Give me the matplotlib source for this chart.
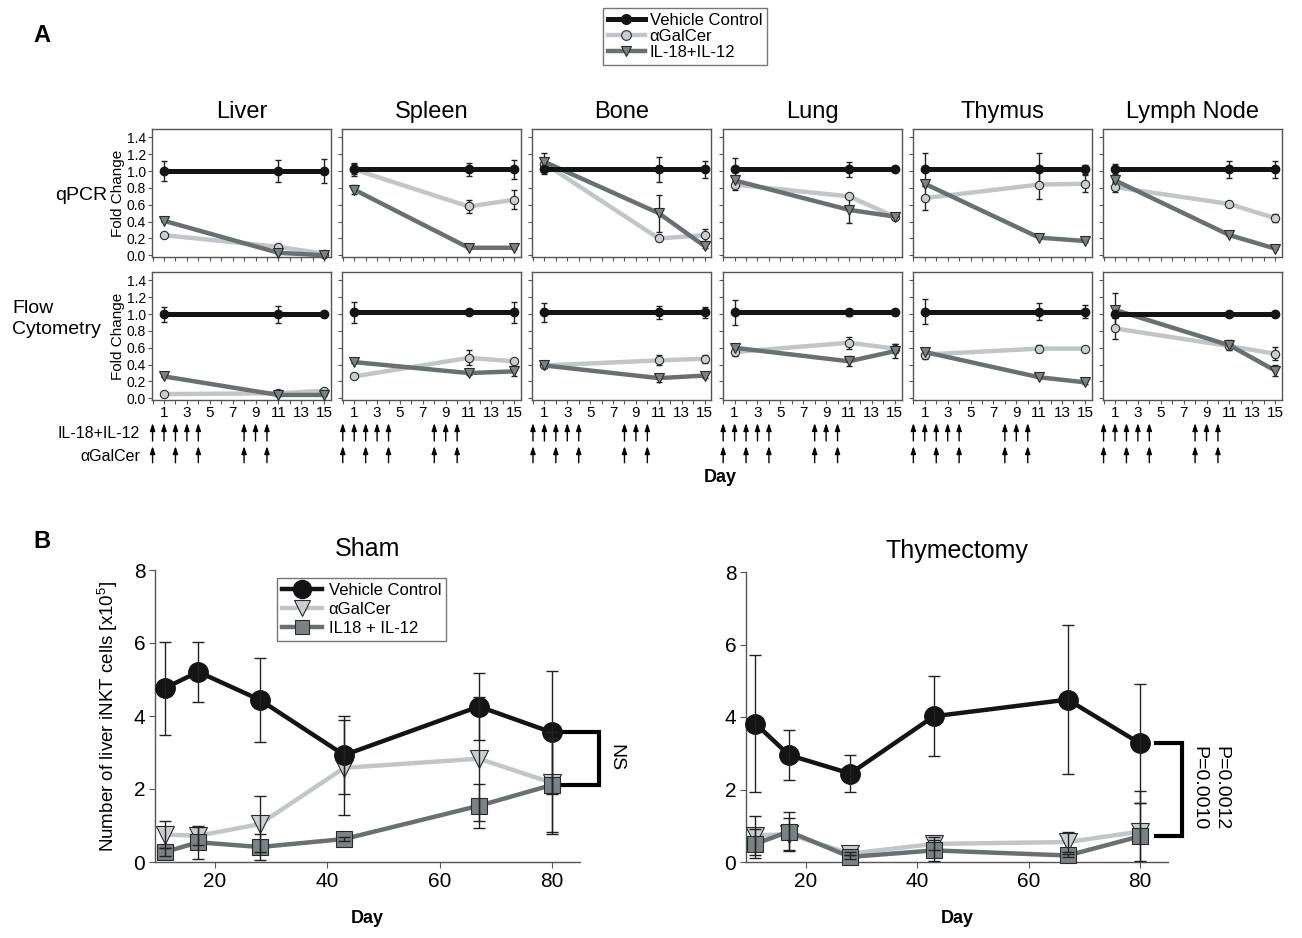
import matplotlib
matplotlib.use("Agg")
import matplotlib.pyplot as plt
from matplotlib.lines import Line2D
from matplotlib.ticker import MultipleLocator

plt.rcParams['font.family'] = ['Liberation Sans', 'DejaVu Sans']
plt.rcParams['mathtext.fontset'] = 'custom'
plt.rcParams['mathtext.rm'] = 'Liberation Sans'
plt.rcParams['mathtext.default'] = 'regular'

# ---------------- panel A data ----------------
tissues = ["Liver", "Spleen", "Bone", "Lung", "Thymus", "Lymph Node"]
days_a = [1, 11, 15]

qpcr_vehicle = [[1.00, 1.00, 1.00], [1.02, 1.02, 1.02], [1.02, 1.02, 1.02],
                [1.02, 1.02, 1.02], [1.02, 1.02, 1.02], [1.02, 1.02, 1.02]]
qpcr_vehicle_err = [[0.12, 0.13, 0.14], [0.08, 0.08, 0.11], [0.05, 0.15, 0.10],
                    [0.14, 0.09, 0.01], [0.20, 0.20, 0.05], [0.06, 0.10, 0.10]]
qpcr_galcer = [[0.24, 0.10, 0.02], [1.02, 0.58, 0.66], [1.09, 0.20, 0.24],
               [0.84, 0.70, 0.46], [0.68, 0.84, 0.85], [0.81, 0.61, 0.44]]
qpcr_galcer_err = [[0.01, 0.02, 0.01], [0.06, 0.08, 0.11], [0.05, 0.03, 0.07],
                   [0.06, 0.02, 0.03], [0.14, 0.17, 0.10], [0.06, 0.03, 0.05]]
qpcr_il = [[0.41, 0.03, 0.00], [0.78, 0.09, 0.09], [1.11, 0.50, 0.11],
           [0.89, 0.54, 0.46], [0.85, 0.21, 0.17], [0.89, 0.24, 0.08]]
qpcr_il_err = [[0.02, 0.01, 0.01], [0.05, 0.01, 0.01], [0.10, 0.22, 0.02],
               [0.03, 0.16, 0.03], [0.02, 0.01, 0.01], [0.03, 0.01, 0.01]]

flow_vehicle = [[1.00, 1.00, 1.00], [1.02, 1.02, 1.02], [1.02, 1.02, 1.02],
                [1.02, 1.02, 1.02], [1.03, 1.03, 1.03], [1.00, 1.00, 1.00]]
flow_vehicle_err = [[0.09, 0.10, 0.02], [0.12, 0.02, 0.12], [0.11, 0.08, 0.07],
                    [0.15, 0.04, 0.03], [0.15, 0.10, 0.08], [0.03, 0.04, 0.02]]
flow_galcer = [[0.05, 0.06, 0.09], [0.26, 0.48, 0.44], [0.39, 0.45, 0.47],
               [0.55, 0.66, 0.59], [0.52, 0.59, 0.59], [0.83, 0.62, 0.53]]
flow_galcer_err = [[0.01, 0.01, 0.01], [0.01, 0.09, 0.02], [0.01, 0.06, 0.05],
                   [0.05, 0.07, 0.05], [0.05, 0.04, 0.02], [0.12, 0.03, 0.08]]
flow_il = [[0.26, 0.04, 0.04], [0.43, 0.30, 0.32], [0.39, 0.24, 0.27],
           [0.60, 0.44, 0.56], [0.55, 0.25, 0.19], [1.05, 0.63, 0.33]]
flow_il_err = [[0.01, 0.01, 0.01], [0.01, 0.02, 0.06], [0.01, 0.05, 0.03],
               [0.03, 0.06, 0.08], [0.02, 0.01, 0.02], [0.20, 0.06, 0.06]]

il_arrow_days = [0, 1, 2, 3, 4, 8, 9, 10]
galcer_arrow_days = [0, 2, 4, 8, 10]

# ---------------- panel B data ----------------
days_b = [11, 17, 28, 43, 67, 80]
sham_vehicle = [4.76, 5.21, 4.44, 2.93, 4.26, 3.55]
sham_vehicle_err = [1.28, 0.82, 1.15, 1.07, 0.93, 1.69]
sham_galcer = [0.75, 0.72, 1.04, 2.58, 2.83, 2.17]
sham_galcer_err = [0.38, 0.25, 0.77, 1.30, 1.70, 1.40]
sham_il = [0.27, 0.54, 0.41, 0.63, 1.54, 2.11]
sham_il_err = [0.10, 0.45, 0.35, 0.05, 0.60, 1.30]

thym_vehicle = [3.82, 2.95, 2.44, 4.02, 4.48, 3.27]
thym_vehicle_err = [1.89, 0.70, 0.50, 1.10, 2.06, 1.63]
thym_galcer = [0.73, 0.77, 0.23, 0.50, 0.55, 0.84]
thym_galcer_err = [0.55, 0.45, 0.05, 0.18, 0.28, 0.80]
thym_il = [0.50, 0.84, 0.14, 0.32, 0.18, 0.71]
thym_il_err = [0.40, 0.55, 0.05, 0.30, 0.05, 1.25]

# ---------------- styles ----------------
veh_c = '#141414'
gal_line = '#c2c6ca'
gal_face = '#cbced1'
il_line = '#687071'
il_face = '#7a8283'
edge = '#2a2a2a'
spine_c = '#555555'

W, H = 1302, 938
fig = plt.figure(figsize=(W / 100, H / 100), dpi=100)


def fax(left, top, width, height):
    return fig.add_axes([left / W, 1 - (top + height) / H, width / W, height / H])


def style_a(ax, show_y, show_x):
    for s in ax.spines.values():
        s.set_color(spine_c)
        s.set_linewidth(1.0)
    ax.set_xlim(-0.05, 15.6)
    ax.set_ylim(-0.02, 1.5)
    ax.xaxis.set_major_locator(MultipleLocator(2, offset=1))
    ax.xaxis.set_minor_locator(MultipleLocator(1))
    ax.yaxis.set_major_locator(MultipleLocator(0.2))
    ax.tick_params(axis='both', which='both', direction='out', length=3,
                   width=0.8, color=spine_c, labelsize=10, pad=1.5)
    ax.tick_params(axis='x', labelsize=11, pad=1)
    if not show_y:
        ax.tick_params(axis='y', labelleft=False)
    else:
        ax.set_yticks([0, 0.2, 0.4, 0.6, 0.8, 1.0, 1.2, 1.4])
        ax.set_yticklabels(['0.0', '0.2', '0.4', '0.6', '0.8', '1.0', '1.2', '1.4'])
        ax.set_ylabel('Fold Change', fontsize=11, labelpad=1)
    if not show_x:
        ax.tick_params(axis='x', labelbottom=False)


def draw_a(ax, veh, veh_e, gal, gal_e, il, il_e):
    ax.errorbar(days_a, gal, yerr=gal_e, fmt='none', ecolor='#222222',
                elinewidth=1, capsize=2.5, zorder=2)
    ax.errorbar(days_a, il, yerr=il_e, fmt='none', ecolor='#222222',
                elinewidth=1, capsize=2.5, zorder=2)
    ax.errorbar(days_a, veh, yerr=veh_e, fmt='none', ecolor='#222222',
                elinewidth=1, capsize=2.5, zorder=2)
    ax.plot(days_a, gal, color=gal_line, lw=3.2, marker='o', ms=6,
            mfc=gal_face, mec=edge, mew=0.8, zorder=3, clip_on=False)
    ax.plot(days_a, il, color=il_line, lw=3.2, marker='v', ms=6.5,
            mfc=il_face, mec=edge, mew=0.8, zorder=4, clip_on=False)
    ax.plot(days_a, veh, color=veh_c, lw=3.6, marker='o', ms=6,
            mfc=veh_c, mec=veh_c, zorder=5, clip_on=False)


lefts = [152 + i * 190.2 for i in range(6)]
for i, name in enumerate(tissues):
    ax1 = fax(lefts[i], 129, 179, 128)
    style_a(ax1, i == 0, False)
    draw_a(ax1, qpcr_vehicle[i], qpcr_vehicle_err[i], qpcr_galcer[i],
           qpcr_galcer_err[i], qpcr_il[i], qpcr_il_err[i])
    ax1.set_title(name, fontsize=17, pad=8)

    ax2 = fax(lefts[i], 272, 179, 128)
    style_a(ax2, i == 0, True)
    draw_a(ax2, flow_vehicle[i], flow_vehicle_err[i], flow_galcer[i],
           flow_galcer_err[i], flow_il[i], flow_il_err[i])

    # injection arrows below the flow panels
    for d in il_arrow_days:
        ax2.annotate('', xy=(d, -0.18), xytext=(d, -0.32),
                     xycoords=('data', 'axes fraction'),
                     textcoords=('data', 'axes fraction'),
                     arrowprops=dict(arrowstyle='-|>,head_length=0.45,head_width=0.15',
                                     color='k', lw=1.0, shrinkA=0, shrinkB=0))
    for d in galcer_arrow_days:
        ax2.annotate('', xy=(d, -0.36), xytext=(d, -0.49),
                     xycoords=('data', 'axes fraction'),
                     textcoords=('data', 'axes fraction'),
                     arrowprops=dict(arrowstyle='-|>,head_length=0.45,head_width=0.15',
                                     color='k', lw=1.0, shrinkA=0, shrinkB=0))

fig.text(55 / W, 1 - 196 / H, 'qPCR', fontsize=14, va='center', ha='left')
fig.text(12 / W, 1 - 319 / H, 'Flow\nCytometry', fontsize=14, va='center',
         ha='left', linespacing=1.35)
fig.text(140 / W, 1 - 433 / H, 'IL-18+IL-12', fontsize=11.5, va='center', ha='right')
fig.text(140 / W, 1 - 456 / H, '\u03b1GalCer', fontsize=11.5, va='center', ha='right')
fig.text(720 / W, 1 - 478 / H, 'Day', fontsize=13, fontweight='bold',
         va='center', ha='center')
fig.text(42 / W, 1 - 36 / H, 'A', fontsize=17, fontweight='bold', va='center', ha='center')
fig.text(42 / W, 1 - 541 / H, 'B', fontsize=17, fontweight='bold', va='center', ha='center')

leg_a = [
    Line2D([0], [0], color=veh_c, lw=3.6, marker='o', ms=7, mfc=veh_c, mec=veh_c),
    Line2D([0], [0], color=gal_line, lw=3.2, marker='o', ms=7, mfc=gal_face, mec=edge, mew=0.8),
    Line2D([0], [0], color=il_line, lw=3.2, marker='v', ms=7.5, mfc=il_face, mec=edge, mew=0.8),
]
la = fig.legend(leg_a, ['Vehicle Control', '\u03b1GalCer', 'IL-18+IL-12'],
                loc='upper left', bbox_to_anchor=(603 / W, 1 - 8 / H),
                fontsize=12, frameon=True, fancybox=False, borderpad=0.3,
                handlelength=2.2, handletextpad=0.3, labelspacing=0.05,
                borderaxespad=0)
la.get_frame().set_edgecolor('#555555')
la.get_frame().set_linewidth(1.0)


# ---------------- panel B ----------------
def draw_b(ax, veh, veh_e, gal, gal_e, il, il_e):
    ax.plot(days_b, gal, color=gal_line, lw=3.2, marker='v', ms=13,
            mfc=gal_face, mec=edge, mew=0.8, zorder=3, clip_on=False)
    ax.plot(days_b, il, color=il_line, lw=3.2, marker='s', ms=11,
            mfc=il_face, mec=edge, mew=0.8, zorder=4, clip_on=False)
    ax.plot(days_b, veh, color=veh_c, lw=3.2, marker='o', ms=14,
            mfc=veh_c, mec=veh_c, zorder=5, clip_on=False)
    for v, e in ((veh, veh_e), (gal, gal_e), (il, il_e)):
        ax.errorbar(days_b, v, yerr=e, fmt='none', ecolor='#222222',
                    elinewidth=1, capsize=4, zorder=6)


def style_b(ax, title):
    for s in ('top', 'right'):
        ax.spines[s].set_visible(False)
    for s in ('left', 'bottom'):
        ax.spines[s].set_color(spine_c)
        ax.spines[s].set_linewidth(1.0)
    ax.set_xlim(9.3, 85)
    ax.set_ylim(0, 8)
    ax.set_xticks([20, 40, 60, 80])
    ax.set_yticks([0, 2, 4, 6, 8])
    ax.tick_params(direction='out', length=4, width=0.8, color=spine_c,
                   labelsize=15, pad=3)
    ax.set_xlabel('Day', fontsize=13, fontweight='bold', labelpad=14)
    ax.set_title(title, fontsize=18, pad=10)


axs = fax(155, 570, 425, 292)
style_b(axs, 'Sham')
draw_b(axs, sham_vehicle, sham_vehicle_err, sham_galcer, sham_galcer_err,
       sham_il, sham_il_err)
axs.set_ylabel('Number of liver iNKT cells [x10$^{5}$]', fontsize=13.5, labelpad=10)
axs.plot([82.0, 88.4, 88.4, 82.0], [sham_vehicle[-1], sham_vehicle[-1], sham_il[-1], sham_il[-1]],
         color='k', lw=3, clip_on=False, solid_joinstyle='miter')
axs.text(91.4, 2.85, 'NS', rotation=270, fontsize=14, ha='center', va='center')

leg_b = [
    Line2D([0], [0], color=veh_c, lw=3.2, marker='o', ms=13, mfc=veh_c, mec=veh_c),
    Line2D([0], [0], color=gal_line, lw=3.2, marker='v', ms=12, mfc=gal_face, mec=edge, mew=0.8),
    Line2D([0], [0], color=il_line, lw=3.2, marker='s', ms=10.5, mfc=il_face, mec=edge, mew=0.8),
]
lb = axs.legend(leg_b, ['Vehicle Control', '\u03b1GalCer', 'IL18 + IL-12'],
                loc='upper left', bbox_to_anchor=(277 / W, 1 - 578 / H),
                bbox_transform=fig.transFigure, fontsize=12, frameon=True,
                fancybox=False, borderpad=0.3, handlelength=2.4,
                handletextpad=0.4, labelspacing=0.25, borderaxespad=0)
lb.get_frame().set_edgecolor('#555555')
lb.get_frame().set_linewidth(1.0)

axt = fax(746, 572, 422, 290)
style_b(axt, 'Thymectomy')
draw_b(axt, thym_vehicle, thym_vehicle_err, thym_galcer, thym_galcer_err,
       thym_il, thym_il_err)
axt.plot([82.8, 87.6, 87.6, 82.8], [thym_vehicle[-1], thym_vehicle[-1], thym_il[-1], thym_il[-1]],
         color='k', lw=3, clip_on=False, solid_joinstyle='miter')
axt.text(90.6, 2.05, 'P=0.0010', rotation=270, fontsize=14, ha='center', va='center')
axt.text(94.4, 2.05, 'P=0.0012', rotation=270, fontsize=14, ha='center', va='center')

fig.savefig('out.png', dpi=100)
